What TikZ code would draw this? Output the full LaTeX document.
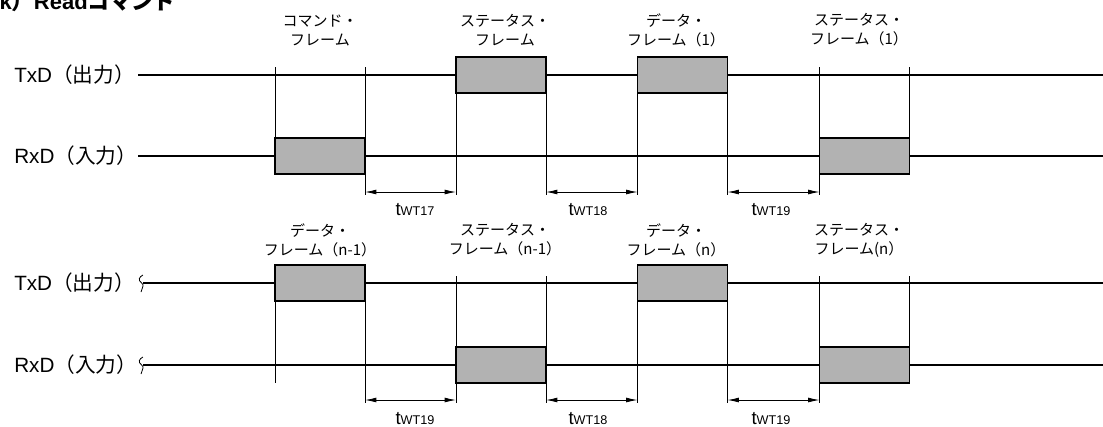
\documentclass[tikz,border=0pt]{standalone}
\usepackage{fontspec}
\setmainfont{Liberation Sans}
\newfontfamily\jpfont{Noto Sans CJK JP}
\usetikzlibrary{arrows.meta}
\newcommand\twt[1]{{\fontsize{14}{14}\selectfont t}{\fontsize{9.5}{10}\selectfont WT#1}}

\begin{document}
\begin{tikzpicture}[x=0.75pt, y=-0.75pt,
  sig/.style={line width=2.2pt},
  frame/.style={draw, line width=1.4pt, fill=black!30, inner sep=0pt, outer sep=0pt,
    minimum width=67.5pt, minimum height=27pt},
  tick/.style={line width=0.5pt},
  gap/.style={line width=0.6pt, {Latex[length=8.5pt,width=3.6pt]}-{Latex[length=8.5pt,width=3.6pt]}},
  lbl/.style={anchor=base west, inner sep=0pt, font=\fontsize{15.5}{17}\selectfont},
  framecap/.style={align=center, inner sep=0pt, font=\jpfont\fontsize{11.25}{14.25}\selectfont},
  tw/.style={anchor=base, inner sep=0pt}]
  \useasboundingbox (0,0) rectangle (1103,426);
  \node[anchor=base east, inner sep=0pt, font=\bfseries\fontsize{16.5}{18}\selectfont] (title) at (176,9)
    {{\jpfont（}k{\jpfont）}Read{\jpfont コマンド}};

  % signal names
  \node[lbl] (tx1) at (14,82.5) {TxD{\jpfont（出力）}};
  \node[lbl] (rx1) at (14,163.5) {RxD{\jpfont（入力）}};
  \node[lbl] (tx2) at (14,290.5) {TxD{\jpfont（出力）}};
  \node[lbl] (rx2) at (14,372.5) {RxD{\jpfont（入力）}};

  % signal lines
  \coordinate (s1) at (138,75);  \coordinate (e1) at (1103,75);
  \coordinate (s2) at (138,156); \coordinate (e2) at (1103,156);
  \coordinate (s3) at (143,283); \coordinate (e3) at (1103,283);
  \coordinate (s4) at (143,365); \coordinate (e4) at (1103,365);
  \foreach \a/\b in {s1/e1, s2/e2, s3/e3, s4/e4}
    \draw[sig] (\a) -- (\b);
  \foreach \p in {s3, s4}
    \draw[line width=0.6pt] ([shift={(0,-8)}]\p) .. controls +(-4,2) and +(-4,-3) .. ([xshift=-1]\p)
      .. controls +(3,2) and +(1,-4) .. ([shift={(-2,9)}]\p);

  % frames
  \node[frame] (cmd)  at (320,156) {};
  \node[frame] (st0)  at (501,75) {};
  \node[frame] (d1)   at (682.5,75) {};
  \node[frame] (st1)  at (864.5,156) {};
  \node[frame] (dn1)  at (320,283) {};
  \node[frame] (stn1) at (501,365) {};
  \node[frame] (dn)   at (682.5,283) {};
  \node[frame] (stn)  at (864.5,365) {};

  \node[framecap] (ccmd)  at (320,30) {コマンド・\\フレーム};
  \node[framecap] (cst0)  at (505,30) {ステータス・\\フレーム};
  \node[framecap] (cd1)   at (676,30) {データ・\\フレーム（1）};
  \node[framecap] (cst1)  at (859,30) {ステータス・\\フレーム（1）};
  \node[framecap] (cdn1)  at (320,240) {データ・\\フレーム（n-1）};
  \node[framecap] (cstn1) at (505,240) {ステータス・\\フレーム（n-1）};
  \node[framecap] (cdn)   at (676,240) {データ・\\フレーム（n）};
  \node[framecap] (cstn)  at (859,240) {ステータス・\\フレーム(n）};

  % tick levels
  \coordinate (tt) at (0,67);  \coordinate (ta) at (0,195); \coordinate (ty) at (0,192);
  \coordinate (bt) at (0,276); \coordinate (bb) at (0,383);
  \coordinate (ba) at (0,403); \coordinate (by) at (0,400);

  % upper ticks
  \draw[tick] (cmd.west |- tt) -- (cmd.north west);
  \draw[tick] (cmd.east |- tt) -- (cmd.east |- ta);
  \draw[tick] (st0.south west) -- (st0.west |- ta);
  \draw[tick] (st0.south east) -- (st0.east |- ta);
  \draw[tick] (d1.south west) -- (d1.west |- ta);
  \draw[tick] (d1.south east) -- (d1.east |- ta);
  \draw[tick] (st1.west |- tt) -- (st1.west |- ta);
  \draw[tick] (st1.east |- tt) -- (st1.north east);

  % lower ticks
  \draw[tick] (dn1.south west) -- (dn1.west |- bb);
  \draw[tick] (dn1.south east) -- (dn1.east |- ba);
  \draw[tick] (stn1.west |- bt) -- (stn1.west |- ba);
  \draw[tick] (stn1.east |- bt) -- (stn1.east |- ba);
  \draw[tick] (dn.south west) -- (dn.west |- ba);
  \draw[tick] (dn.south east) -- (dn.east |- ba);
  \draw[tick] (stn.west |- bt) -- (stn.west |- ba);
  \draw[tick] (stn.east |- bt) -- (stn.north east);

  % wait times
  \draw[gap] (cmd.east |- ty) -- (st0.west |- ty);
  \draw[gap] (st0.east |- ty) -- (d1.west |- ty);
  \draw[gap] (d1.east |- ty) -- (st1.west |- ty);
  \draw[gap] (dn1.east |- by) -- (stn1.west |- by);
  \draw[gap] (stn1.east |- by) -- (dn.west |- by);
  \draw[gap] (dn.east |- by) -- (stn.west |- by);

  \node[tw] (w17)  at (415,215) {\twt{17}};
  \node[tw] (w18)  at (588,215) {\twt{18}};
  \node[tw] (w19)  at (771,215) {\twt{19}};
  \node[tw] (w19a) at (415,424) {\twt{19}};
  \node[tw] (w18a) at (588,424) {\twt{18}};
  \node[tw] (w19b) at (771,424) {\twt{19}};
\end{tikzpicture}
\end{document}
